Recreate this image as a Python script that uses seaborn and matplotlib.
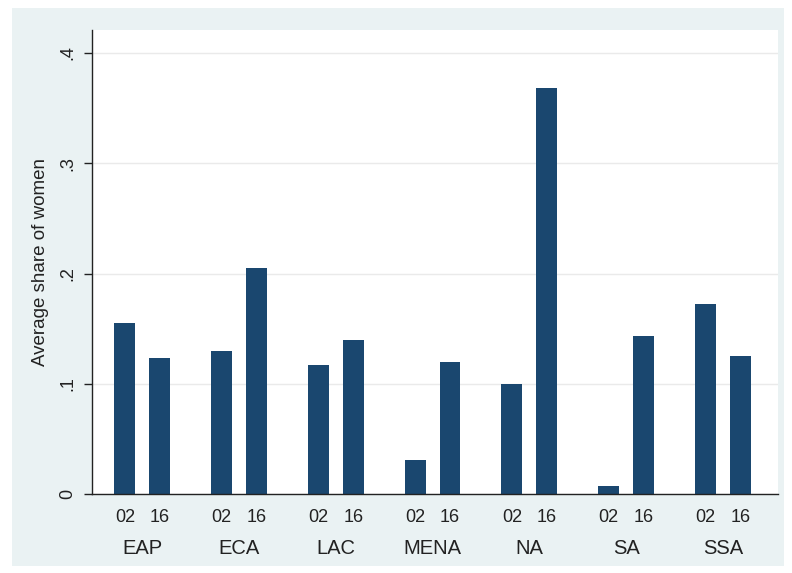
import matplotlib
matplotlib.use("Agg")
import matplotlib.pyplot as plt
import matplotlib.patches as mpatches
import matplotlib.transforms as mtransforms
import seaborn as sns
import pandas as pd

regions = ["EAP", "ECA", "LAC", "MENA", "NA", "SA", "SSA"]
years = ["02", "16"]
share_02 = [0.155, 0.130, 0.117, 0.031, 0.100, 0.0075, 0.172]
share_16 = [0.123, 0.205, 0.140, 0.120, 0.368, 0.143, 0.125]
yticks = [0, 0.1, 0.2, 0.3, 0.4]
ytick_labels = ["0", ".1", ".2", ".3", ".4"]

sns.set_theme(style="white")
plt.rcParams["font.family"] = ["Liberation Sans", "DejaVu Sans"]

df = pd.DataFrame({
    "region": regions * 2,
    "year": [years[0]] * len(regions) + [years[1]] * len(regions),
    "share": share_02 + share_16,
})

W, H = 792, 573
fig = plt.figure(figsize=(W / 100, H / 100), dpi=100)
fig.patch.set_facecolor("white")
bg = mpatches.Rectangle((12 / W, 1 - 566 / H), 772 / W, 558 / H,
                        transform=fig.transFigure, facecolor="#eaf2f3",
                        edgecolor="none", zorder=-10)
fig.add_artist(bg)

ax = fig.add_axes([92 / W, 1 - 494 / H, (778 - 92) / W, (494 - 30) / H])
ax.set_zorder(1)
ax.set_facecolor("white")

bar_color = "#1a476f"
sns.barplot(data=df, x="region", y="share", hue="year", order=regions,
            hue_order=years, palette=[bar_color, bar_color], width=0.72,
            gap=0.40, ax=ax, legend=False, saturation=1, linewidth=0)

ax.set_xlim(-0.52, 6.57)
ax.set_ylim(0, 0.4 + 0.4 * (494 - 30 - 441) / 441)
ax.set_yticks(yticks)
ax.set_yticklabels(ytick_labels, rotation=90, va="center", fontsize=13,
                   color="#222222")
ax.yaxis.grid(True, color="#eaeaea", linewidth=1)
ax.set_axisbelow(True)
ax.tick_params(axis="y", length=6, width=1, color="#222222", pad=5, left=True)

# x tick labels: years under each bar
pos = []
labs = []
for i in range(len(regions)):
    for j, yv in enumerate(years):
        pos.append(i + (-0.18 if j == 0 else 0.18))
        labs.append(yv)
ax.set_xticks(pos)
ax.set_xticklabels(labs, fontsize=13, color="#222222")
ax.tick_params(axis="x", length=0, pad=11)

trans = mtransforms.blended_transform_factory(ax.transData, ax.transAxes)
for i, r in enumerate(regions):
    ax.text(i, -(548 - 494) / 464, r, transform=trans, ha="center",
            va="center", fontsize=14.5, color="#222222")

ax.set_xlabel("")
ax.set_ylabel("Average share of women", fontsize=13.5, color="#222222",
              labelpad=8)

for s in ["top", "right"]:
    ax.spines[s].set_visible(False)
for s in ["left", "bottom"]:
    ax.spines[s].set_color("#222222")
    ax.spines[s].set_linewidth(1)

fig.savefig("out.png", dpi=100, facecolor="white")
